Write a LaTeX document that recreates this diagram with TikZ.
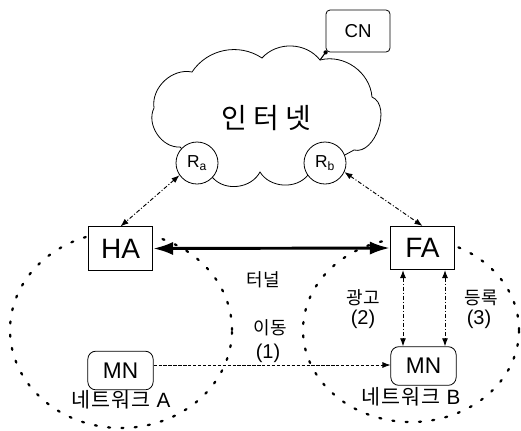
\documentclass[tikz,border=0pt]{standalone}
\usepackage{fontspec}
\setmainfont{Liberation Sans}
\newfontfamily\kr{Noto Sans CJK KR}
\newfontfamily\krwide[LetterSpace=22]{Noto Sans CJK KR}
\newfontfamily\krnet[LetterSpace=5]{Noto Sans CJK KR}
\usetikzlibrary{arrows.meta,calc}

\begin{document}
\begin{tikzpicture}[x=0.75pt,y=-0.75pt,
  agentbox/.style={draw,fill=white,line width=0.6pt,minimum width=48.5pt,minimum height=32.5pt,inner sep=0pt,font=\fontsize{21}{21}\selectfont},
  mnbox/.style={draw,fill=white,line width=0.6pt,rounded corners=6pt,minimum width=49pt,minimum height=29pt,inner sep=0pt,font=\fontsize{17}{17}\selectfont},
  cnbox/.style={draw,fill=white,line width=0.6pt,rounded corners=3pt,minimum width=48pt,minimum height=31.5pt,inner sep=0pt,font=\fontsize{14}{14}\selectfont},
  router/.style={draw,circle,fill=white,line width=0.6pt,minimum size=31.5pt,inner sep=0pt,font=\fontsize{13}{13}\selectfont},
  netzone/.style={line width=1.7pt,line cap=round,dash pattern=on 1.5pt off 8.5pt},
  cloudline/.style={line width=0.6pt},
  krlabel/.style={font=\kr\fontsize{13.5}{14}\selectfont,inner sep=0pt},
  netlabel/.style={font=\krnet\fontsize{15.5}{15.5}\selectfont,inner sep=0pt},
  numlabel/.style={font=\fontsize{15}{15}\selectfont,inner sep=0pt},
  linkarrow/.style={line width=0.7pt,dash pattern=on 3pt off 1.5pt on 0.8pt off 1.5pt,{Latex[length=6pt,width=4.5pt]}-{Latex[length=6pt,width=4.5pt]}},
  tunnelarrow/.style={line width=2.2pt,{Latex[length=15pt,width=10pt]}-{Latex[length=15pt,width=10pt]}},
  movearrow/.style={line width=0.6pt,dash pattern=on 2.5pt off 1.2pt,-{Latex[length=6pt,width=4.5pt]}}
]
\useasboundingbox (0,0) rectangle (521,430);

% networks A and B
\draw[netzone] (121,330) ellipse [x radius=83.25pt, y radius=73.5pt];
\draw[netzone] (411,330) ellipse [x radius=81pt, y radius=69pt];

% the internet cloud
\draw[cloudline] (180,147) to[bend left=60] (154,108) to[bend left=55] (192,72)
  to[bend left=45] (262,58) to[bend left=50] (320,60) to[bend left=50] (372,97)
  to[bend left=85] (354,150) -- (308,175) to[bend left=55] (260,172)
  to[bend left=55] (213,178) -- cycle;
\coordinate (cloudtop) at (320,60);
\node[font=\krwide\fontsize{21}{21}\selectfont] (inet) at (266,118) {인터넷};

% routers on the cloud border
\node[router] (ra) at (197,163) {R\textsubscript{a}};
\node[router] (rb) at (325,163) {R\textsubscript{b}};

% correspondent node
\node[cnbox] (cn) at (358,31) {CN};
\fill (cn.south west) circle (1.6pt);
\draw[line width=0.8pt] (cn.south west) -- (cloudtop);

% agents and mobile nodes
\node[agentbox] (ha) at (120.5,248.5) {HA};
\node[agentbox] (fa) at (422.5,248) {FA};
\node[mnbox] (mna) at (120.5,370.5) {MN};
\node[mnbox] (mnb) at (423.5,366) {MN};

% router links
\draw[linkarrow] (ra.215) -- (ha.north);
\draw[linkarrow] (rb.-25) -- (fa.north);

% tunnel
\draw[tunnelarrow] (ha.east) -- (fa.west);
\node[krlabel] (tunnel) at (263,280) {터널};

% movement of the mobile node
\coordinate (movey) at (0,365);
\draw[movearrow] (mna.east |- movey) -- (mnb.west |- movey);
\node[krlabel] (move) at (270,328) {이동};
\node[numlabel] (moven) at (268,353) {(1)};

% advertisement and registration
\coordinate (advx) at (403,0);
\coordinate (regx) at (445,0);
\draw[linkarrow] (fa.south -| advx) -- (mnb.north -| advx);
\draw[linkarrow] (fa.south -| regx) -- (mnb.north -| regx);
\node[krlabel] (adv) at (363,298) {광고};
\node[numlabel] (advn) at (363,319) {(2)};
\node[krlabel] (reg) at (481,298) {등록};
\node[numlabel] (regn) at (479,319) {(3)};

% network names
\node[netlabel] (neta) at (121,400) {네트워크 \fontspec{Liberation Sans}A};
\node[netlabel] (netb) at (411,397) {네트워크 \fontspec{Liberation Sans}B};
\end{tikzpicture}
\end{document}
